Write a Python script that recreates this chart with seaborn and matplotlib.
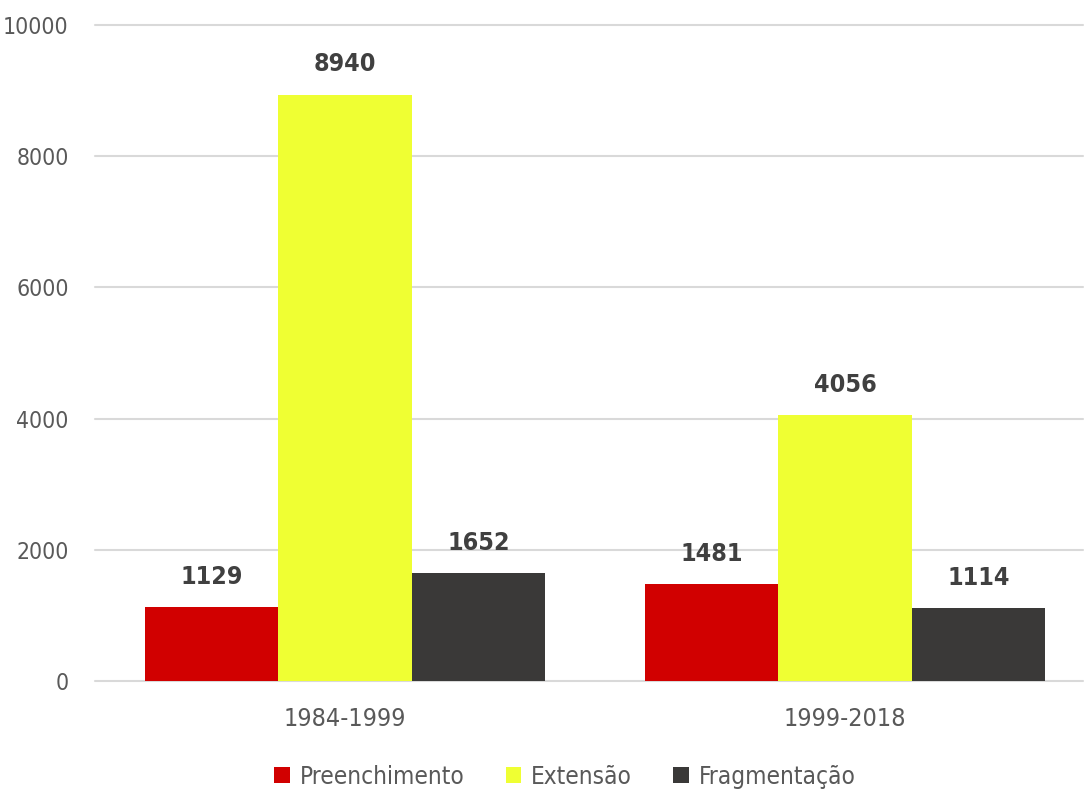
import matplotlib
matplotlib.use("Agg")
import matplotlib.pyplot as plt
import seaborn as sns
import pandas as pd
from matplotlib.patches import Patch

periods = ["1984-1999", "1999-2018"]
series = ["Preenchimento", "Extensão", "Fragmentação"]
preenchimento = [1129, 1481]
extensao = [8940, 4056]
fragmentacao = [1652, 1114]
colors = ["#D10000", "#EFFF33", "#3A3938"]
yticks = [0, 2000, 4000, 6000, 8000, 10000]

rows = []
for s, vals in zip(series, [preenchimento, extensao, fragmentacao]):
    for p, v in zip(periods, vals):
        rows.append({"Período": p, "Tipo": s, "Valor": v})
df = pd.DataFrame(rows)

sns.set_theme(style="white")
plt.rcParams['font.family'] = ['DejaVu Sans']
plt.rcParams['font.stretch'] = 'condensed'

fig = plt.figure(figsize=(10.84, 7.93), dpi=100)
ax = fig.add_axes([0.0876, 0.1412, 0.9115, 0.8273])

sns.barplot(data=df, x="Período", y="Valor", hue="Tipo", hue_order=series,
            order=periods, palette=colors, width=0.8, saturation=1,
            ax=ax, legend=False, linewidth=0)

ax.set_ylim(0, 10000)
ax.set_xlim(-0.5, 1.476)
ax.set_yticks(yticks)
ax.set_yticklabels([str(t) for t in yticks])
ax.yaxis.grid(True, color="#D9D9D9", linewidth=1.5)
for gl in ax.get_ygridlines():
    gl.set_clip_on(False)
ax.set_axisbelow(True)
for sp in ax.spines.values():
    sp.set_visible(False)
ax.tick_params(axis="y", length=0, labelsize=16.5, colors="#595959", pad=19)
ax.tick_params(axis="x", length=0, labelsize=18, colors="#595959", pad=19)
for lab in ax.get_xticklabels() + ax.get_yticklabels():
    lab.set_fontstretch('condensed')
ax.set_xlabel("")
ax.set_ylabel("")

for cont in ax.containers:
    ax.bar_label(cont, labels=[f"{int(v)}" for v in cont.datavalues],
                 padding=13, fontsize=18, color="#404040", fontweight="bold",
                 fontstretch='condensed')

handles = [Patch(facecolor=c, edgecolor="none") for c in colors]
leg = fig.legend(handles, series, loc="lower center", ncol=3, frameon=False,
                 bbox_to_anchor=(0.521, -0.022), fontsize=17.5, handlelength=0.65,
                 handleheight=0.65, columnspacing=1.7, handletextpad=0.4)
for t in leg.get_texts():
    t.set_color("#595959")
    t.set_fontstretch('condensed')

fig.savefig("out.png", dpi=100)
